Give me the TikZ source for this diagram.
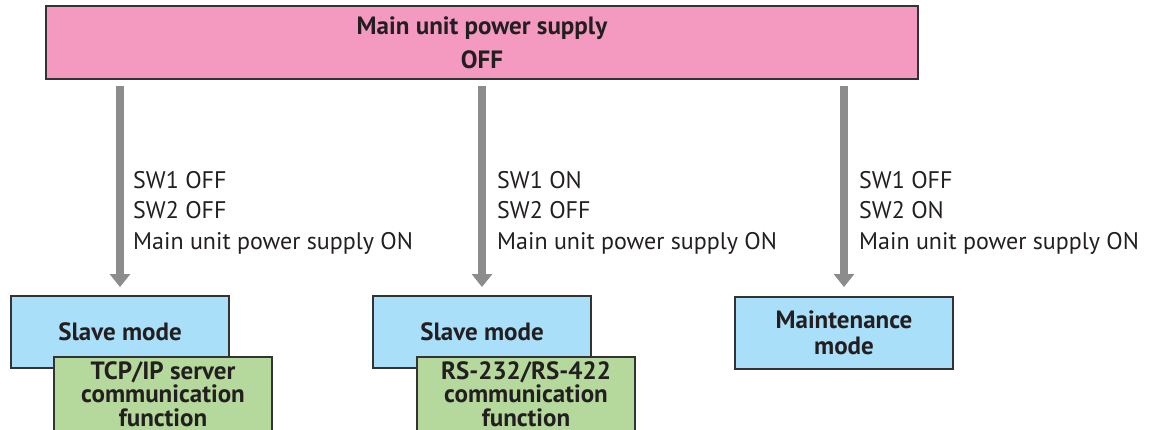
\documentclass[tikz,border=0pt]{standalone}
\usepackage{fontspec}
\setmainfont{PT Sans}
\usetikzlibrary{arrows.meta}
\definecolor{pinkfill}{HTML}{F49AC1}
\definecolor{bluefill}{HTML}{A9DFF9}
\definecolor{greenfill}{HTML}{B5D99C}
\definecolor{bordercol}{HTML}{333333}
\definecolor{arrowcol}{HTML}{8C8C8D}
\definecolor{txt}{HTML}{231F20}
\tikzset{
  x=1pt, y=-1pt,
  boxbase/.style={draw=bordercol, line width=2pt, inner sep=0pt, align=center, text=txt,
    font=\bfseries\fontsize{25}{26}\selectfont},
  mainbox/.style={boxbase, fill=pinkfill, minimum width=872pt, minimum height=73pt,
    font=\bfseries\fontsize{25}{33}\selectfont},
  modebox/.style={boxbase, fill=bluefill, minimum width=218pt, minimum height=72pt},
  funcbox/.style={boxbase, fill=greenfill, minimum width=218pt, minimum height=74pt,
    font=\bfseries\fontsize{25}{23.5}\selectfont},
  condlabel/.style={inner sep=0pt, align=left, anchor=north west, text=txt,
    font=\fontsize{24}{30.5}\selectfont},
  flowarrow/.style={draw=arrowcol, line width=8pt, -{Triangle[length=13pt,width=20pt]}},
}
\begin{document}
\begin{tikzpicture}
\useasboundingbox (0,0) rectangle (1160,429);
\begin{scope}
\clip (0,0) rectangle (1160,429);
\node[mainbox] (main) at (482,42.5) {\raisebox{1pt}{Main unit power supply}\\OFF};

\node[modebox] (slave1) at (120,332) {\raisebox{-3pt}{Slave mode}};
\node[funcbox] (func1) at (163,394) {TCP/IP server\\communication\\function};

\node[modebox] (slave2) at (482,332) {\raisebox{-3pt}{Slave mode}};
\node[funcbox] (func2) at (526,394) {RS-232/RS-422\\communication\\function};

\node[modebox, font=\bfseries\fontsize{25}{26}\selectfont] (maint) at (844,333) {Maintenance\\mode};

\coordinate (s1) at (120,86);
\coordinate (s2) at (482,86);
\coordinate (s3) at (844,86);
\coordinate (e1) at (120,287);
\coordinate (e2) at (482,287);
\coordinate (e3) at (844,287);
\draw[flowarrow] (s1) -- (e1);
\draw[flowarrow] (s2) -- (e2);
\draw[flowarrow] (s3) -- (e3);

\node[condlabel] (c1) at (133,171) {SW1 OFF\\SW2 OFF\\Main unit power supply ON};
\node[condlabel] (c2) at (497,171) {SW1 ON\\SW2 OFF\\Main unit power supply ON};
\node[condlabel] (c3) at (859,171) {SW1 OFF\\SW2 ON\\Main unit power supply ON};
\end{scope}
\end{tikzpicture}
\end{document}
